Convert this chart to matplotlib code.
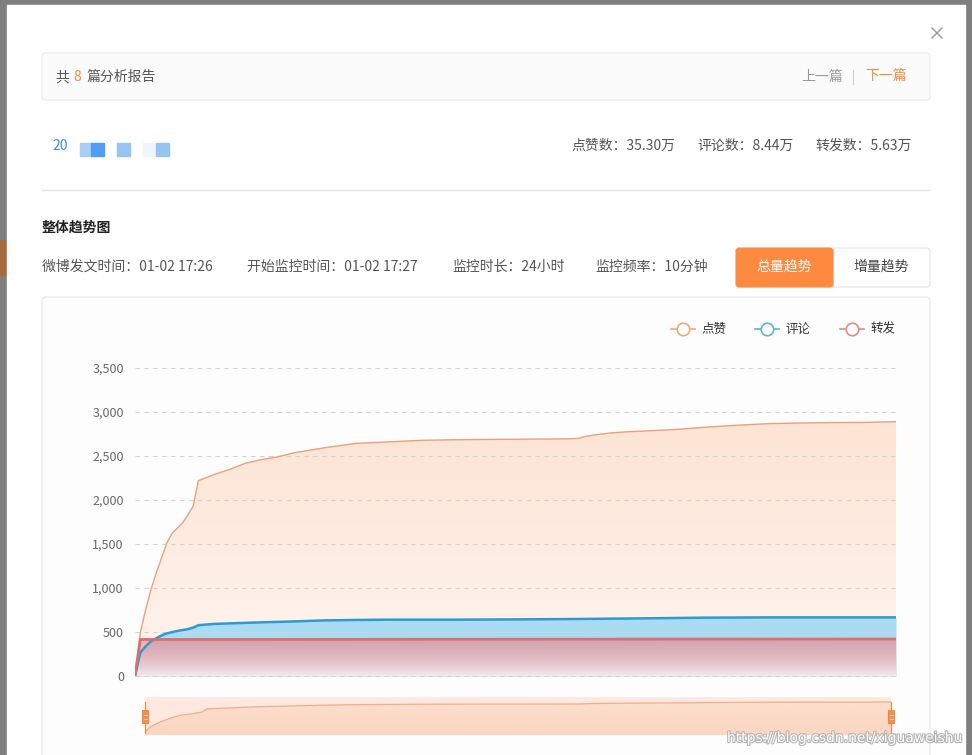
import matplotlib
matplotlib.use('Agg')
import matplotlib.pyplot as plt
from matplotlib.patches import Rectangle, FancyBboxPatch
import matplotlib.patheffects as pe
import numpy as np

plt.rcParams['font.family'] = ['Noto Sans CJK SC', 'DejaVu Sans']

# ---------------- data ----------------
like_t = [0, 10, 20, 30, 40, 50, 60, 70, 80, 90, 100, 110, 120, 150, 180, 210, 240, 270,
          300, 330, 360, 390, 420, 480, 540, 600, 660, 720, 780, 810, 830, 840, 850, 870,
          900, 930, 960, 1020, 1080, 1140, 1200, 1260, 1320, 1380, 1440]
like_v = [0, 490, 750, 977, 1167, 1337, 1508, 1620, 1680, 1740, 1830, 1930, 2220, 2290, 2350,
          2420, 2460, 2490, 2535, 2565, 2595, 2620, 2645, 2660, 2678, 2684, 2688, 2690, 2693,
          2695, 2697, 2700, 2720, 2740, 2762, 2775, 2783, 2800, 2828, 2850, 2868, 2875, 2880,
          2882, 2890]

comment_t = [0, 10, 20, 30, 40, 50, 60, 80, 100, 110, 120, 150, 180, 240, 300, 360, 420, 480,
             600, 720, 840, 960, 1020, 1080, 1200, 1440]
comment_v = [0, 265, 336, 393, 428, 460, 484, 512, 532, 550, 577, 592, 598, 610, 620, 632, 637,
             640, 640, 643, 648, 655, 659, 663, 666, 666]

repost_t = [0, 10, 720, 1440]
repost_v = [0, 415, 418, 420]

y_ticks = [0, 500, 1000, 1500, 2000, 2500, 3000, 3500]
y_labels = ['0', '500', '1,000', '1,500', '2,000', '2,500', '3,000', '3,500']
series_names = ['点赞', '评论', '转发']

header_count = '8'
stats_text = ['点赞数：35.30万', '评论数：8.44万', '转发数：5.63万']
info_text = ['微博发文时间：01-02 17:26', '开始监控时间：01-02 17:27', '监控时长：24小时', '监控频率：10分钟']

# ---------------- figure ----------------
W, H = 972, 755
fig = plt.figure(figsize=(W / 100, H / 100), dpi=100)
fig.patch.set_facecolor('#7f7f7f')
bg = fig.add_axes([0, 0, 1, 1])
bg.set_xlim(0, W)
bg.set_ylim(H, 0)
bg.axis('off')
bg.set_zorder(0)

# underlying page fragments
bg.add_patch(Rectangle((0, 240), 7, 35, color='#a9693f', zorder=1))
# modal
bg.add_patch(Rectangle((7, 5), 958, 760, color='white', zorder=2))
# close X
bg.plot([932, 942], [28, 38], color='#9a9a9a', lw=1.0, zorder=3)
bg.plot([932, 942], [38, 28], color='#9a9a9a', lw=1.0, zorder=3)

# header box
bg.add_patch(FancyBboxPatch((42, 53), 888, 47, boxstyle='round,pad=0,rounding_size=3',
                            fc='#fbfbfb', ec='#ececec', lw=0.8, zorder=3))
fs = 10
bg.text(55, 77, '共', fontsize=fs, color='#555555', va='center', ha='left', zorder=4)
bg.text(73, 77, header_count, fontsize=fs, color='#f08a3c', va='center', ha='left', zorder=4)
bg.text(87, 77, '篇分析报告', fontsize=fs, color='#555555', va='center', ha='left', zorder=4)
bg.text(801, 77, '上一篇', fontsize=fs, color='#999999', va='center', ha='left', zorder=4)
bg.plot([853, 853], [70, 84], color='#cccccc', lw=0.8, zorder=4)
bg.text(865, 77, '下一篇', fontsize=fs, color='#f08a3c', va='center', ha='left', zorder=4)

# title row with blurred blocks
bg.text(52, 146, '20', fontsize=fs, color='#3a8fd6', va='center', ha='left', zorder=4)
for (x0, w, c) in [(80, 12, '#a8d0f5'), (91, 13, '#4c9ff2'), (117, 13, '#95c5f3'),
                   (143, 12, '#eef5fc'), (156, 13, '#93c4f2')]:
    bg.add_patch(Rectangle((x0, 143), w, 13, color=c, zorder=4))
stat_x = [571, 697, 815]
for x0, s in zip(stat_x, stats_text):
    bg.text(x0, 146, s, fontsize=fs, color='#555555', va='center', ha='left', zorder=4)

bg.plot([42, 930], [190, 190], color='#e8e8e8', lw=1.0, zorder=4)

bg.text(42, 228, '整体趋势图', fontsize=fs, color='#222222', fontweight='bold',
        va='center', ha='left', zorder=4)
info_x = [42, 247, 452, 595]
for x0, s in zip(info_x, info_text):
    bg.text(x0, 267, s, fontsize=fs, color='#555555', va='center', ha='left', zorder=4)

bg.add_patch(FancyBboxPatch((833, 248), 97, 39, boxstyle='round,pad=0,rounding_size=3',
                            fc='white', ec='#e3e3e3', lw=0.8, zorder=3))
bg.add_patch(FancyBboxPatch((736, 248), 97, 39, boxstyle='round,pad=0,rounding_size=3',
                            fc='#fd8a3f', ec='#fd8a3f', lw=0.8, zorder=4))
bg.text(784, 267, '总量趋势', fontsize=fs, color='white', va='center', ha='center', zorder=5)
bg.text(881, 267, '增量趋势', fontsize=fs, color='#444444', va='center', ha='center', zorder=5)

# chart container
bg.add_patch(FancyBboxPatch((42, 297), 888, 480, boxstyle='round,pad=0,rounding_size=4',
                            fc='#fdfdfe', ec='#e6e6e6', lw=0.8, zorder=3))

# legend
leg_cols = ['#f0a878', '#5ab4dc', '#e08a8a']
leg_x = [683, 767, 852]
for cx, c, name in zip(leg_x, leg_cols, series_names):
    bg.plot([cx - 12, cx + 12], [329, 329], color=c, lw=1.2, zorder=5)
    bg.plot([cx], [329], marker='o', ms=9, mfc='white', mec=c, mew=1.2, zorder=6)
    bg.text(cx + 18, 329, name, fontsize=9, color='#333333', va='center', ha='left', zorder=6)

# ---------------- main chart ----------------
x_left, x_right, y_top, y_bot = 135, 896, 368, 676
ax = fig.add_axes([x_left / W, (H - y_bot) / H, (x_right - x_left) / W, (y_bot - y_top) / H])
ax.set_zorder(5)
ax.patch.set_alpha(0)
ax.set_xlim(0, 1440)
ax.set_ylim(0, 3500)
for s in ax.spines.values():
    s.set_visible(False)
ax.set_xticks([])
ax.set_yticks(y_ticks)
ax.set_yticklabels(y_labels)
ax.tick_params(axis='y', length=0, pad=8, labelsize=9, labelcolor='#666666')


def grad_fill(axis, x, y, top_rgba, bot_rgba, ymin, ymax, zorder):
    poly = axis.fill_between(x, y, ymin, facecolor='none', edgecolor='none', zorder=zorder)
    path = poly.get_paths()[0]
    n = 256
    t = np.linspace(0, 1, n)[:, None, None]
    img = (1 - t) * np.array(top_rgba)[None, None, :] + t * np.array(bot_rgba)[None, None, :]
    im = axis.imshow(img, extent=[0, 1440, ymin, ymax], origin='upper', aspect='auto',
                     zorder=zorder, interpolation='bilinear')
    im.set_clip_path(path, transform=axis.transData)
    return im


grad_fill(ax, like_t, like_v, (253 / 255, 228 / 255, 212 / 255, 1), (254 / 255, 245 / 255, 240 / 255, 1),
          0, 2900, 1)
ax.fill_between(comment_t, comment_v, 0, color='#a9dcf3', lw=0, zorder=2)
grad_fill(ax, repost_t, repost_v, (250 / 255, 110 / 255, 110 / 255, 0.5), (246 / 255, 238 / 255, 238 / 255, 0.93),
          0, 420, 3)

for yv in y_ticks:
    ax.axhline(yv, color='#d2d2d2', lw=0.8, dashes=(4, 4), zorder=4, clip_on=False)

ax.plot(like_t, like_v, color='#e8a27a', lw=1.0, zorder=6)
ax.plot(comment_t, comment_v, color='#2f9acf', lw=1.8, zorder=6)
ax.plot(repost_t, repost_v, color='#d96f6f', lw=2.0, zorder=6)
ax.set_xlim(0, 1440)
ax.set_ylim(0, 3500)

# ---------------- data zoom slider ----------------
s_left, s_right, s_top, s_bot = 145, 891, 697, 735
sx = fig.add_axes([s_left / W, (H - s_bot) / H, (s_right - s_left) / W, (s_bot - s_top) / H])
sx.set_zorder(6)
sx.axis('off')
sy0, sy1 = -290, 3370
sx.add_patch(Rectangle((0, sy0), 1440, sy1 - sy0, color='#fde9df', zorder=0))
grad_fill(sx, like_t, like_v, (252 / 255, 222 / 255, 205 / 255, 1), (252 / 255, 214 / 255, 193 / 255, 1),
          sy0, 2900, 1)
sx.plot(like_t, like_v, color='#f3ad86', lw=0.9, zorder=2)
sx.set_xlim(0, 1440)
sx.set_ylim(sy0, sy1)

# overlay for slider handles
ov = fig.add_axes([0, 0, 1, 1])
ov.set_xlim(0, W)
ov.set_ylim(H, 0)
ov.axis('off')
ov.patch.set_alpha(0)
ov.set_zorder(8)
for hx in [s_left, s_right]:
    ov.plot([hx, hx], [702, 733], color='#f08a4a', lw=0.9)
    ov.add_patch(Rectangle((hx - 3, 710), 6, 13, fc='#f7944f', ec='#e57a35', lw=0.6))
    ov.plot([hx - 1.5, hx + 1.5], [714.5, 714.5], color='#fde0cc', lw=0.6)
    ov.plot([hx - 1.5, hx + 1.5], [718.5, 718.5], color='#fde0cc', lw=0.6)

# watermark
wm = ov.text(727, 738, 'https://blog.csdn.net/xiguaweishu', fontsize=10,
             color='white', va='center', ha='left', family=['DejaVu Sans'])
wm.set_path_effects([pe.withStroke(linewidth=1.6, foreground='#b5b5b5')])

fig.savefig('out.png', dpi=100)
